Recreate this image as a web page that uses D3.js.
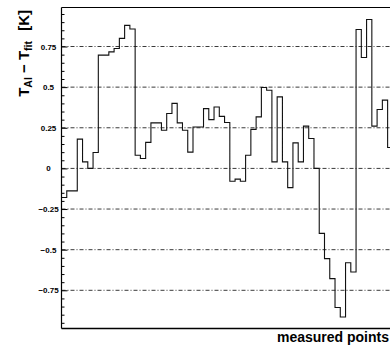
<!DOCTYPE html>
<html>
<head>
<meta charset="utf-8">
<script src="https://cdn.jsdelivr.net/npm/d3@7/dist/d3.min.js"></script>
<style>
  html, body { margin: 0; padding: 0; background: #fff; }
  svg { display: block; }
  text { font-family: "Liberation Sans", Arial, Helvetica, sans-serif; font-weight: bold; }
</style>
</head>
<body>
<svg id="chart" width="390" height="347"></svg>
<script>
// measured point index (bins)
const points = ["1","2","3","4","5","6","7","8","9","10","11","12","13","14","15","16","17","18","19","20",
  "21","22","23","24","25","26","27","28","29","30","31","32","33","34","35","36","37","38","39","40",
  "41","42","43","44","45","46","47","48","49","50","51","52","53","54","55","56","57","58","59","60",
  "61","62","63"];
// T_Al - T_fit [K] per measured point
const deltaT = [-0.179, -0.138, -0.138, 0.18, 0.04, 0.0, 0.098, 0.697, 0.697, 0.717,
  0.738, 0.80, 0.88, 0.858, 0.081, 0.061, 0.16, 0.28, 0.28, 0.235,
  0.338, 0.40, 0.28, 0.235, 0.10, 0.255, 0.255, 0.368, 0.30, 0.378,
  0.32, 0.282, -0.079, -0.066, -0.079, 0.081, 0.24, 0.317, 0.498, 0.481,
  0.04, 0.44, 0.04, -0.118, 0.157, 0.04, 0.26, 0.184, 0.0, -0.40,
  -0.555, -0.678, -0.856, -0.914, -0.58, -0.637, 0.855, 0.682, 0.916, 0.26,
  0.362, 0.42, 0.129];
const yTickValues = [-0.75, -0.5, -0.25, 0, 0.25, 0.5, 0.75];
const yTickLabels = ["\u22120.75", "\u22120.5", "\u22120.25", "0", "0.25", "0.5", "0.75"];
const yMinorTicks = [-0.95,-0.9,-0.85,-0.8,-0.7,-0.65,-0.6,-0.55,-0.45,-0.4,-0.35,-0.3,-0.2,-0.15,-0.1,-0.05,
  0.05,0.1,0.15,0.2,0.3,0.35,0.4,0.45,0.55,0.6,0.65,0.7,0.8,0.85,0.9,0.95];
const xTitle = "measured points";

const svg = d3.select("#chart");
const mLeft = 61.5, mTop = 7.5, mBottom = 328.5, binW = 5.26;
const mRight = mLeft + points.length * binW;

const x = d3.scaleLinear().domain([0, points.length]).range([mLeft, mRight]);
const y = d3.scaleLinear().domain([-0.985, 0.99]).range([mBottom, mTop]);

// grid lines (dash-dot)
svg.append("g").selectAll("line").data(yTickValues).join("line")
  .attr("x1", mLeft).attr("x2", mRight)
  .attr("y1", d => y(d)).attr("y2", d => y(d))
  .attr("stroke", "#3a3a3a").attr("stroke-width", 1)
  .attr("stroke-dasharray", "4,2,1,2");

// histogram step line
const stepData = deltaT.concat([deltaT[deltaT.length - 1]]);
const line = d3.line()
  .x((d, i) => x(i))
  .y(d => y(d))
  .curve(d3.curveStepAfter);
svg.append("path")
  .datum(stepData)
  .attr("d", line)
  .attr("fill", "none")
  .attr("stroke", "#111")
  .attr("stroke-width", 1.1);

// minor ticks
const minorAxis = d3.axisLeft(y).tickValues(yMinorTicks).tickSize(-3).tickFormat("");
svg.append("g").attr("transform", `translate(${mLeft},0)`).call(minorAxis)
  .call(g => g.select(".domain").remove())
  .call(g => g.selectAll(".tick line").attr("stroke", "#000"));

// major axis
const majorAxis = d3.axisLeft(y).tickValues(yTickValues).tickSize(-6).tickPadding(13)
  .tickFormat((d, i) => yTickLabels[i]);
const gy = svg.append("g").attr("transform", `translate(${mLeft},0)`).call(majorAxis);
gy.select(".domain").remove();
gy.selectAll(".tick line").attr("stroke", "#000");
gy.selectAll(".tick text")
  .attr("text-anchor", "middle")
  .attr("font-size", 8)
  .attr("font-family", "Liberation Sans, Arial, sans-serif")
  .attr("font-weight", "bold")
  .attr("fill", "#000");

// frame
svg.append("line").attr("x1", mLeft).attr("x2", mLeft).attr("y1", mTop).attr("y2", mBottom)
  .attr("stroke", "#000").attr("stroke-width", 1.2);
svg.append("line").attr("x1", mLeft).attr("x2", mRight).attr("y1", mTop).attr("y2", mTop)
  .attr("stroke", "#000").attr("stroke-width", 1.2);
svg.append("line").attr("x1", mLeft).attr("x2", mRight).attr("y1", mBottom).attr("y2", mBottom)
  .attr("stroke", "#000").attr("stroke-width", 1.4);

// x title
svg.append("text")
  .attr("x", 389).attr("y", 342)
  .attr("text-anchor", "end")
  .attr("font-size", 14)
  .text(xTitle);

// y title
const yt = svg.append("text")
  .attr("transform", "translate(29,10) rotate(-90)")
  .attr("text-anchor", "end")
  .attr("font-size", 15)
  .attr("xml:space", "preserve");
yt.append("tspan").text("T");
yt.append("tspan").attr("font-size", 10.5).attr("dy", 3).text("Al");
yt.append("tspan").attr("dy", -3).text(" \u2212 T");
yt.append("tspan").attr("font-size", 10.5).attr("dy", 3).text("fit");
yt.append("tspan").attr("dy", -3).attr("dx", 6).text(" [K]");
</script>
</body>
</html>
